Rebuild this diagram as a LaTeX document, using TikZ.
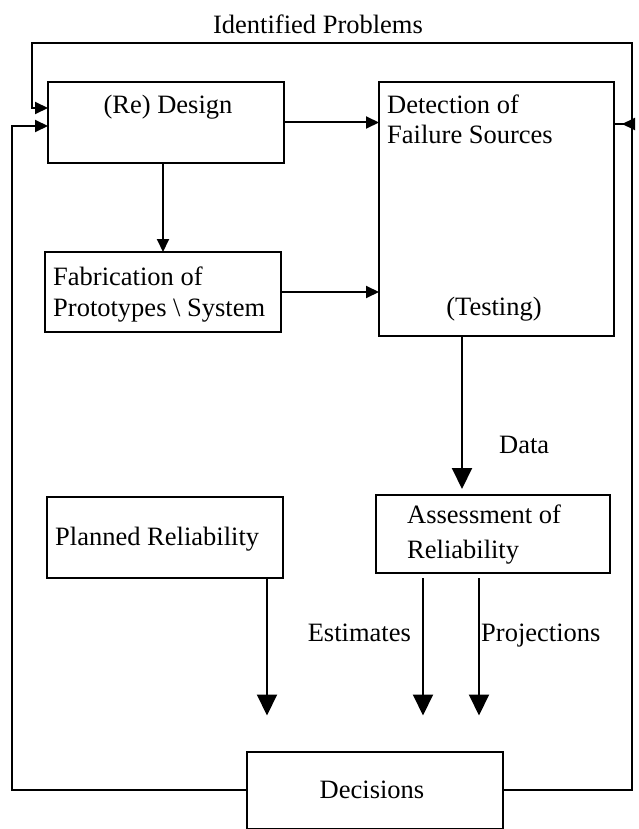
\documentclass[tikz,border=0pt]{standalone}
\usepackage{fontspec}
\setmainfont{Liberation Serif}
\usetikzlibrary{arrows.meta,calc}
\begin{document}
\begin{tikzpicture}[x=1pt,y=-1pt,
  box/.style={draw, line width=2pt, inner sep=0pt, outer sep=0pt},
  txt/.style={inner sep=0pt, text height=17.5pt, text depth=0pt, font=\fontsize{26.5}{30}\selectfont},
  conn/.style={line width=2pt},
  arrs/.style={conn, -{Triangle[length=13pt,width=12pt]}},
  arrb/.style={conn, -{Triangle[length=21pt,width=20pt]}}]
\fill[white] (0,0) rectangle (638,829);
\useasboundingbox (0,0) rectangle (638,829);

% boxes
\node[box, minimum width=236pt, minimum height=81pt] (design) at (166,122.5) {};
\node[box, minimum width=235pt, minimum height=254pt] (det) at (496.5,209) {};
\node[box, minimum width=236pt, minimum height=80pt] (fab) at (163,292) {};
\node[box, minimum width=234pt, minimum height=78pt] (ass) at (493,534) {};
\node[box, minimum width=236pt, minimum height=81pt] (plan) at (165,537.5) {};
\node[box, minimum width=256pt, minimum height=77pt] (dec) at (375,790) {};

% texts
\node[txt] (tIP) at (318,25) {Identified Problems};
\node[txt] (tDes) at (168,105) {(Re) Design};
\node[txt, anchor=west] (tDet1) at (387,105) {Detection of};
\node[txt, anchor=west] (tDet2) at (387,135) {Failure Sources};
\node[txt] (tTest) at (494,307) {(Testing)};
\node[txt, anchor=west] (tFab1) at (53,277) {Fabrication of};
\node[txt, anchor=west] (tFab2) at (53,308) {Prototypes \textbackslash{} System};
\node[txt, anchor=west] (tData) at (499,445) {Data};
\node[txt, anchor=west] (tAss1) at (407,515) {Assessment of};
\node[txt, anchor=west] (tAss2) at (407,550) {Reliability};
\node[txt, anchor=west] (tPlan) at (55,537) {Planned Reliability};
\node[txt, anchor=east] (tEst) at (411,633) {Estimates};
\node[txt, anchor=west] (tProj) at (481,633) {Projections};
\node[txt] (tDec) at (372,790) {Decisions};

% corner coordinates
\coordinate (cTL) at (32,43);
\coordinate (cTR) at (632,43);
\coordinate (cBR) at (632,790);
\coordinate (cBL) at (12,790);
\coordinate (xData) at ($(det.south)+(-34.5,0)$);
\coordinate (xPlan) at ($(plan.south)+(102,0)$);
\coordinate (xEst) at ($(ass.south)+(-70,0)$);
\coordinate (xProj) at ($(ass.south)+(-14,0)$);

% feedback loops
\draw[arrs] (dec.east) -- (cBR) -- (cTR) -- (cTL) |- ([yshift=14.5pt]design.west);
\draw[arrs] (dec.west) -- (cBL) |- ([yshift=-3.5pt]design.west);
\draw[conn] ([yshift=85pt]det.east) -- ([yshift=85pt]det.east -| cTR);
\draw[arrs] ([yshift=85pt]det.east -| cTR) -- ([yshift=85pt,xshift=8pt]det.east);

% forward flow
\draw[arrs] (design.east) -- (design.east -| det.west);
\draw[arrs] (design.south -| fab.north) -- (fab.north);
\draw[arrs] (fab.east) -- (fab.east -| det.west);
\draw[arrb, shorten >=6pt] (xData) -- (xData |- ass.north);
\draw[arrb, shorten >=36pt] (xPlan) -- (xPlan |- dec.north);
\draw[arrb, shorten <=5pt, shorten >=36pt] (xEst) -- (xEst |- dec.north);
\draw[arrb, shorten <=5pt, shorten >=36pt] (xProj) -- (xProj |- dec.north);
\end{tikzpicture}
\end{document}
